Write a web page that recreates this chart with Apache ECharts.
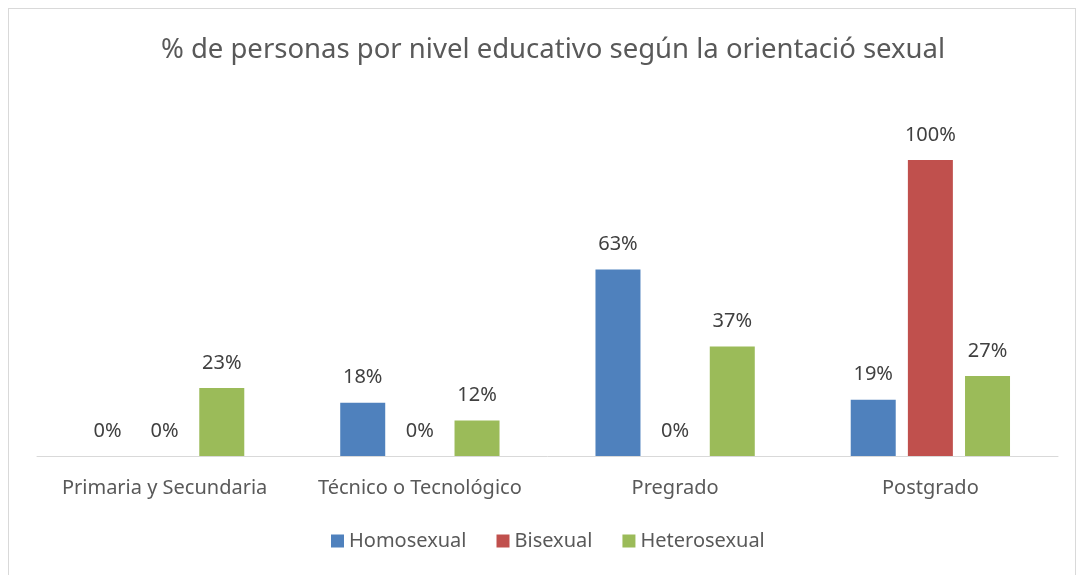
<!DOCTYPE html>
<html>
<head>
<meta charset="utf-8">
<script src="https://cdn.jsdelivr.net/npm/echarts@6/dist/echarts.min.js"></script>
<style>
	html,body{margin:0;padding:0;background:#fff;}
	#frame{position:absolute;left:8px;top:8px;width:1068px;height:580px;border:1px solid #d9d9d9;box-sizing:border-box;}
	#chart{position:absolute;left:0;top:0;width:1077px;height:575px;}
</style>
</head>
<body>
<div id="frame"></div>
<div id="chart"></div>
<script>
var categories = ['Primaria y Secundaria','Técnico o Tecnológico','Pregrado','Postgrado'];
var homosexual = [0, 18, 63, 19];
var bisexual = [0, 0, 0, 100];
var heterosexual = [23, 12, 37, 27];

var COLOR = {
	HOMO:'#4F81BD',
	BI:'#C0504D',
	HETERO:'#9BBB59'
};

var FONT = '"Noto Sans", "Open Sans", sans-serif';

function makeSeries(name,data,color){
	return {
		name:name,
		type:'bar',
		data:data,
		barWidth:45,
		barGap:'27%',
		itemStyle:{color:color},
		label:{
			show:true,
			position:'top',
			distance:15,
			color:'#404040',
			fontSize:20,
			fontFamily:FONT,
			formatter:'{c}%'
		}
	};
}

var myChart = echarts.init(document.getElementById('chart'));
myChart.setOption({
	animation:false,
	title:{
		text:'% de personas por nivel educativo según la orientació sexual',
		left:548,
		textAlign:'center',
		top:31,
		textStyle:{
			color:'#595959',
			fontSize:27.5,
			fontWeight:'normal',
			fontFamily:FONT
		}
	},
	legend:{
		bottom:19,
		left:326,
		itemWidth:13,
		itemHeight:13,
		itemGap:30,
		icon:'rect',
		textStyle:{color:'#595959',fontSize:20,fontFamily:FONT},
		data:['Homosexual','Bisexual','Heterosexual']
	},
	grid:{
		left:37,
		right:19,
		top:100.8,
		bottom:119,
		containLabel:false
	},
	xAxis:{
		type:'category',
		data:categories,
		axisTick:{show:false},
		axisLine:{lineStyle:{color:'#d9d9d9',width:1}},
		axisLabel:{
			interval:0,
			color:'#595959',
			fontSize:20,
			fontFamily:FONT,
			margin:22
		}
	},
	yAxis:{
		type:'value',
		min:0,
		max:120,
		show:false,
		splitLine:{show:false}
	},
	series:[
		makeSeries('Homosexual',homosexual,COLOR.HOMO),
		makeSeries('Bisexual',bisexual,COLOR.BI),
		makeSeries('Heterosexual',heterosexual,COLOR.HETERO)
	]
});
</script>
</body>
</html>
